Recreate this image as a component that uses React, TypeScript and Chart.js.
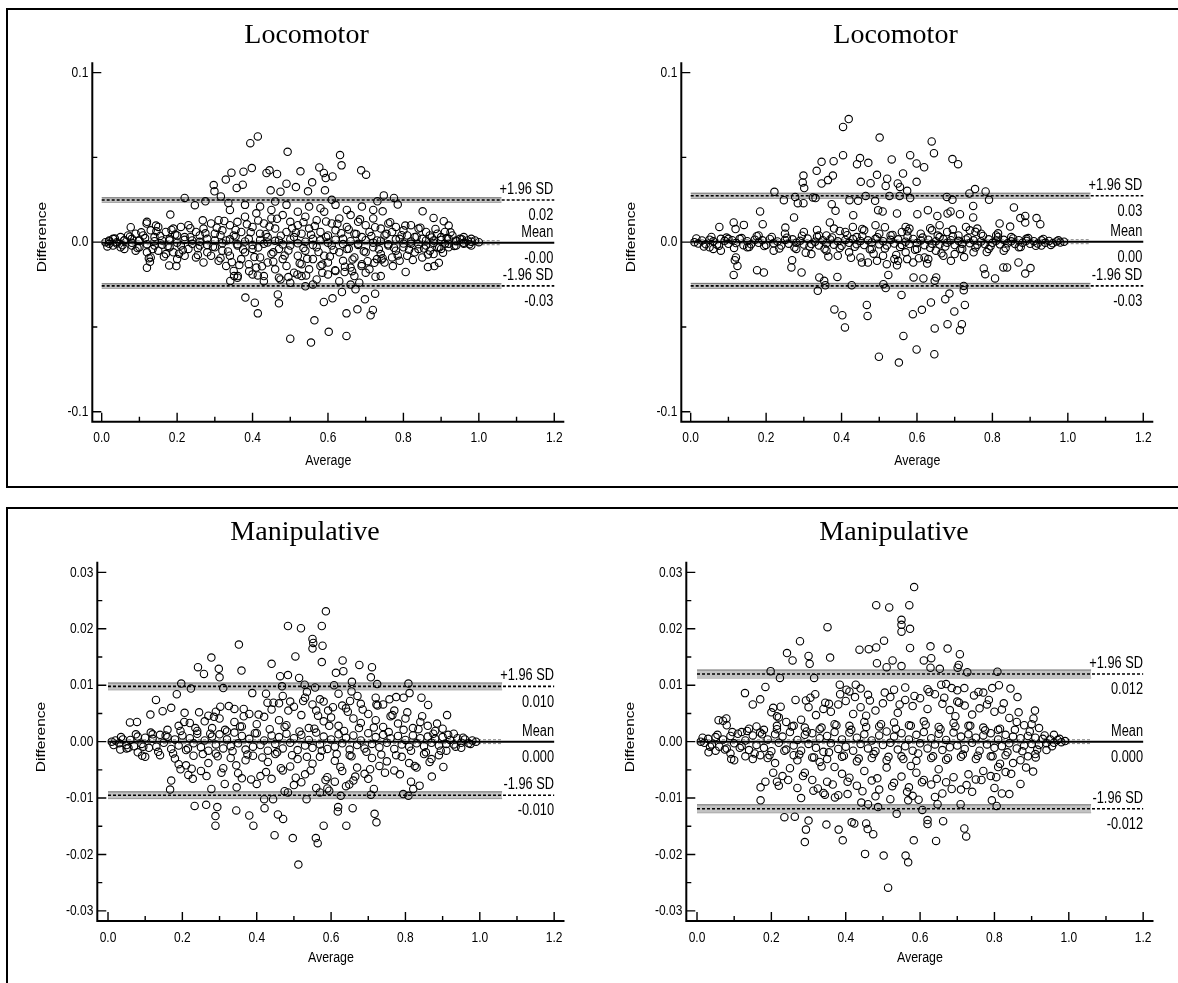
import React, { useEffect, useRef } from "react";
import { Chart, registerables } from "chart.js";

Chart.register(...registerables);

type Pt = [number, number];

// ---------- tick values ----------
const X_TICKS = [0, 0.2, 0.4, 0.6, 0.8, 1.0, 1.2];
const X_MINOR_TICKS = [0.1, 0.3, 0.5, 0.7, 0.9, 1.1];
const Y_TICKS_LOCO = [-0.1, 0, 0.1];
const Y_MINOR_LOCO = [-0.05, 0.05];
const Y_TICKS_MANIP = [-0.03, -0.02, -0.01, 0, 0.01, 0.02, 0.03];
const Y_MINOR_MANIP = [-0.025, -0.015, -0.005, 0.005, 0.015, 0.025];

const LINE_END = 1.2; // x where mean / limit lines stop
const CI_END = 1.06; // x where the CI bands stop

// ---------- limits: [mean, +1.96 SD, -1.96 SD] and CI half widths [mean, limits] ----------
const LOCO_A_LIMITS = [-0.0003, 0.0249, -0.0258];
const LOCO_A_VALUE_LABELS = ["-0.00", "0.02", "-0.03"];
const LOCO_A_CI = [0.0012, 0.0013];

const LOCO_B_LIMITS = [0.0003, 0.0274, -0.0258];
const LOCO_B_VALUE_LABELS = ["0.00", "0.03", "-0.03"];
const LOCO_B_CI = [0.0012, 0.0015];

const MANIP_A_LIMITS = [0.0, 0.0098, -0.0095];
const MANIP_A_VALUE_LABELS = ["0.000", "0.010", "-0.010"];
const MANIP_A_CI = [0.00035, 0.0006];

const MANIP_B_LIMITS = [0.0, 0.012, -0.0119];
const MANIP_B_VALUE_LABELS = ["0.000", "0.012", "-0.012"];
const MANIP_B_CI = [0.00035, 0.0007];

// ---------- Locomotor (left) ----------
const LOCO_A_ZERO: Pt[] = [[0.02,0.0005],[0.04,-0.0008],[0.06,0.0012],[0.08,-0.0004],[0.10,0.0009],[0.12,-0.0012],[0.14,0.0006],[0.16,-0.0015],[0.18,0.0011],[0.20,-0.0003],[0.22,0.0014],[0.24,-0.0010],[0.26,0.0002],[0.28,-0.0016],[0.30,0.0010],[0.32,-0.0006],[0.34,0.0017],[0.36,-0.0012],[0.38,0.0004],[0.40,-0.0018],[0.42,0.0013],[0.44,-0.0002],[0.46,0.0008],[0.48,-0.0014],[0.50,0.0016],[0.52,-0.0007],[0.54,0.0003],[0.56,-0.0017],[0.58,0.0011],[0.60,-0.0004],[0.62,0.0015],[0.64,-0.0011],[0.66,0.0006],[0.68,-0.0016],[0.70,0.0012],[0.72,-0.0003],[0.74,0.0009],[0.76,-0.0013],[0.78,0.0017],[0.80,-0.0008],[0.82,0.0004],[0.84,-0.0012],[0.86,0.0010],[0.88,-0.0005],[0.90,0.0013],[0.92,-0.0009],[0.94,0.0006],[0.96,-0.0004],[0.98,0.0003]];
const LOCO_A_ZERO2: Pt[] = [[0.015,-0.0025],[0.035,0.0021],[0.055,-0.0018],[0.075,0.0032],[0.095,-0.0035],[0.115,0.0024],[0.135,-0.0041],[0.155,0.0037],[0.175,-0.0022],[0.195,0.0045],[0.215,-0.0048],[0.235,0.0029],[0.255,-0.0036],[0.275,0.0052],[0.295,-0.0027],[0.315,0.0041],[0.335,-0.0055],[0.355,0.0034],[0.375,-0.0043],[0.395,0.0058],[0.415,-0.0031],[0.435,0.0047],[0.455,-0.006],[0.475,0.0038],[0.495,-0.0049],[0.515,0.0056],[0.535,-0.0035],[0.555,0.0044],[0.575,-0.0058],[0.595,0.0031],[0.615,-0.0046],[0.635,0.0053],[0.655,-0.0039],[0.675,0.0048],[0.695,-0.0054],[0.715,0.0036],[0.735,-0.0042],[0.755,0.0049],[0.775,-0.0033],[0.795,0.0041],[0.815,-0.0045],[0.835,0.0032],[0.855,-0.0038],[0.875,0.0028],[0.895,-0.0031],[0.915,0.0024],[0.935,-0.0022],[0.955,0.0017],[0.975,-0.0012]];
const LOCO_A_CORE: Pt[] = [[0.01,0],[0.02,0.001],[0.02,-0.001],[0.03,0.002],[0.03,-0.002],[0.04,0],[0.05,0.003],[0.05,-0.003],[0.06,0.001],[0.06,-0.004],[0.07,0.004],[0.08,0.002],[0.08,-0.002],[0.09,0.005],[0.09,-0.005],[0.10,0.001],[0.10,-0.003],[0.11,0.004],[0.12,0.012],[0.12,-0.006],[0.13,0.007],[0.13,-0.009],[0.14,0.003],[0.14,-0.002],[0.15,0.009],[0.15,-0.005],[0.16,0.001],[0.17,0.006],[0.17,-0.007],[0.18,0.002],[0.18,-0.003],[0.19,0.008],[0.19,-0.006],[0.20,0.004],[0.20,-0.010],[0.21,0.009],[0.21,-0.002],[0.22,0.003],[0.22,-0.008],[0.23,0.010],[0.23,-0.004],[0.24,0.001],[0.25,0.006],[0.25,-0.009],[0.26,0.004],[0.26,-0.002],[0.27,0.008],[0.27,-0.012],[0.28,0.002],[0.28,-0.006],[0.29,0.011],[0.29,-0.008],[0.30,0.005],[0.30,-0.003],[0.31,0.013],[0.31,-0.011],[0.32,0.007],[0.32,-0.005],[0.33,0.001],[0.33,-0.014],[0.34,0.010],[0.34,-0.008],[0.35,0.004],[0.35,-0.017],[0.36,0.012],[0.36,-0.002],[0.37,0.006],[0.37,-0.010],[0.38,0.015],[0.38,-0.006],[0.39,0.002],[0.39,-0.013],[0.40,0.009],[0.40,-0.004],[0.41,0.017],[0.41,-0.015],[0.42,0.005],[0.42,-0.009],[0.43,0.011],[0.43,-0.001],[0.44,0.003],[0.44,-0.012],[0.45,0.014],[0.45,-0.007],[0.46,0.008],[0.46,-0.016],[0.47,0.001],[0.47,-0.004],[0.48,0.016],[0.48,-0.010],[0.49,0.006],[0.49,-0.014],[0.50,0.012],[0.50,-0.002],[0.51,0.003],[0.51,-0.018],[0.52,0.010],[0.52,-0.008],[0.53,0.005],[0.53,-0.013],[0.54,0.015],[0.54,-0.005],[0.55,0.008],[0.55,-0.016],[0.56,0.002],[0.56,-0.010],[0.57,0.013],[0.57,-0.003],[0.58,0.006],[0.58,-0.014],[0.59,0.018],[0.59,-0.008],[0.60,0.004],[0.60,-0.012],[0.61,0.011],[0.61,-0.002],[0.62,0.007],[0.62,-0.017],[0.63,0.014],[0.63,-0.006],[0.64,0.002],[0.64,-0.011],[0.65,0.009],[0.65,-0.004],[0.66,0.016],[0.66,-0.015],[0.67,0.005],[0.67,-0.009],[0.68,0.012],[0.68,-0.001],[0.69,0.003],[0.69,-0.013],[0.70,0.010],[0.70,-0.006],[0.71,0.006],[0.71,-0.016],[0.72,0.014],[0.72,-0.003],[0.73,0.001],[0.73,-0.010],[0.74,0.008],[0.74,-0.007],[0.75,0.004],[0.75,-0.012],[0.76,0.011],[0.76,-0.002],[0.77,0.006],[0.77,-0.009],[0.78,0.009],[0.78,-0.005],[0.79,0.002],[0.79,-0.011],[0.80,0.007],[0.80,-0.003],[0.81,0.004],[0.81,-0.008],[0.82,0.010],[0.82,-0.001],[0.83,0.003],[0.83,-0.006],[0.84,0.008],[0.84,-0.004],[0.85,0.002],[0.85,-0.009],[0.86,0.006],[0.86,-0.002],[0.87,0.004],[0.87,-0.005],[0.88,0.001],[0.88,-0.007],[0.89,0.005],[0.89,-0.003],[0.90,0.003],[0.90,-0.004],[0.91,0.006],[0.91,-0.001],[0.92,0.002],[0.92,-0.003],[0.93,0.004],[0.94,0.001],[0.94,-0.002],[0.95,0.002],[0.96,0.003],[0.96,-0.001],[0.97,0.001],[0.98,0.002],[0.98,-0.002],[0.99,0.001],[1.00,0]];
const LOCO_A_MID: Pt[] = [[0.34,0.019],[0.36,-0.021],[0.38,0.022],[0.40,-0.019],[0.42,0.021],[0.43,-0.023],[0.45,0.019],[0.47,-0.021],[0.49,0.022],[0.50,-0.024],[0.52,0.018],[0.53,-0.02],[0.55,0.021],[0.57,-0.022],[0.58,0.02],[0.60,-0.019],[0.62,0.022],[0.63,-0.023],[0.65,0.019],[0.67,-0.02],[0.69,0.021],[0.70,-0.018],[0.72,0.019],[0.74,-0.02],[0.61,0.025],[0.54,-0.026],[0.46,0.024],[0.66,-0.025]];
const LOCO_A_EXTRA: Pt[] = [[0.305,0.0085],[0.315,-0.0095],[0.325,0.0125],[0.345,-0.0118],[0.355,0.0072],[0.365,-0.0135],[0.385,0.0105],[0.405,-0.0088],[0.415,0.0128],[0.425,-0.0142],[0.445,0.0092],[0.455,-0.0115],[0.465,0.0138],[0.485,-0.0078],[0.505,0.0082],[0.525,-0.0125],[0.535,0.0118],[0.545,-0.0098],[0.565,0.0095],[0.585,-0.0132],[0.595,0.0122],[0.605,-0.0085],[0.625,0.0108],[0.645,-0.0145],[0.655,0.0075],[0.665,-0.0102],[0.685,0.0135],[0.705,-0.0112],[0.725,0.0088],[0.745,-0.0095],[0.765,0.0118],[0.785,-0.0078],[0.805,0.0098],[0.825,-0.0105],[0.845,0.0085],[0.865,-0.0072],[0.885,0.0078],[0.905,-0.0062],[0.925,0.0058],[0.255,-0.0075],[0.235,0.0082],[0.205,-0.0068],[0.185,0.0072],[0.165,-0.0085],[0.145,0.0065],[0.125,-0.0095],[0.105,0.0058]];
const LOCO_A_OUTER: Pt[] = [[0.394,0.0584],[0.414,0.0624],[0.493,0.0533],[0.632,0.0514],[0.636,0.0453],[0.688,0.0424],[0.701,0.0398],[0.398,0.0437],[0.344,0.041],[0.376,0.0416],[0.329,0.0369],[0.297,0.0337],[0.358,0.032],[0.374,0.0339],[0.437,0.0408],[0.445,0.0424],[0.465,0.0402],[0.448,0.0306],[0.474,0.0298],[0.49,0.0345],[0.527,0.0418],[0.558,0.0353],[0.577,0.0441],[0.589,0.0408],[0.594,0.0378],[0.612,0.0388],[0.592,0.0306],[0.515,0.0325],[0.547,0.03],[0.22,0.0261],[0.247,0.0218],[0.275,0.0241],[0.299,0.03],[0.316,0.027],[0.336,0.0231],[0.748,0.0276],[0.775,0.0261],[0.785,0.0222],[0.731,0.0241],[0.745,0.0182],[0.851,0.0182],[0.88,0.0143],[0.907,0.0124],[0.92,0.0098],[0.182,0.0163],[0.268,0.0129],[0.077,0.0088],[0.119,0.011],[0.144,0.0098],[0.381,-0.0327],[0.406,-0.0357],[0.414,-0.042],[0.467,-0.0308],[0.47,-0.0361],[0.5,-0.0569],[0.555,-0.0592],[0.564,-0.0461],[0.589,-0.0353],[0.612,-0.0331],[0.602,-0.0529],[0.649,-0.0553],[0.637,-0.0294],[0.649,-0.042],[0.678,-0.0396],[0.673,-0.0278],[0.683,-0.0239],[0.698,-0.0337],[0.713,-0.0431],[0.719,-0.04],[0.725,-0.0304],[0.726,-0.0204],[0.56,-0.0249],[0.341,-0.0229],[0.351,-0.02],[0.361,-0.02],[0.12,-0.0151],[0.128,-0.0116],[0.179,-0.0137],[0.198,-0.0141],[0.806,-0.0176],[0.865,-0.0147],[0.882,-0.0141],[0.894,-0.0122],[0.391,-0.0171],[0.414,-0.0196],[0.43,-0.02],[0.474,-0.022],[0.495,-0.0206],[0.519,-0.019],[0.542,-0.0196],[0.585,-0.018],[0.619,-0.0165],[0.644,-0.0176],[0.664,-0.0171],[0.689,-0.0141],[0.723,-0.0122],[0.742,-0.0102],[0.772,-0.0141]];

// ---------- Locomotor (right) ----------
const LOCO_B_CORE: Pt[] = [[0.01,0],[0.02,-0.0008],[0.03,0.001],[0.04,-0.0012],[0.05,0.0015],[0.05,-0.003],[0.06,0.0005],[0.07,-0.0015],[0.08,0.002],[0.08,-0.005],[0.09,0.0008],[0.10,-0.001],[0.11,0.0012],[0.12,-0.0005],[0.13,0.002],[0.14,-0.0018],[0.15,0.0006],[0.16,-0.0012],[0.17,0.0015],[0.18,-0.0004],[0.19,0.0011],[0.20,-0.0016],[0.21,0.0019],[0.22,-0.0007],[0.23,0.0004],[0.24,-0.002],[0.25,0.0013],[0.26,-0.0009],[0.27,0.0017],[0.28,-0.0003],[0.29,0.0008],[0.30,-0.0014],[0.31,0.0021],[0.32,-0.0011],[0.33,0.0003],[0.34,-0.0019],[0.35,0.0012],[0.36,-0.0006],[0.37,0.0016],[0.38,-0.0015],[0.39,0.0005],[0.40,-0.0021],[0.41,0.0013],[0.42,-0.0004],[0.43,0.0018],[0.44,-0.0012],[0.45,0.0007],[0.46,-0.0017],[0.47,0.0011],[0.48,-0.0002],[0.49,0.002],[0.50,-0.0013],[0.51,0.0006],[0.52,-0.0019],[0.53,0.0014],[0.54,-0.0008],[0.55,0.0017],[0.56,-0.0016],[0.57,0.0003],[0.58,-0.0011],[0.59,0.0019],[0.60,-0.0005],[0.61,0.001],[0.62,-0.0018],[0.63,0.0015],[0.64,-0.0009],[0.65,0.0006],[0.66,-0.0014],[0.67,0.0018],[0.68,-0.0003],[0.69,0.0012],[0.70,-0.0017],[0.71,0.0008],[0.72,-0.001],[0.73,0.0016],[0.74,-0.0006],[0.75,0.0011],[0.76,-0.0015],[0.77,0.0004],[0.78,-0.0012],[0.79,0.0017],[0.80,-0.0004],[0.81,0.0009],[0.82,-0.0013],[0.83,0.0014],[0.84,-0.0007],[0.85,0.0005],[0.86,-0.0011],[0.87,0.0012],[0.88,-0.0003],[0.89,0.0008],[0.90,-0.001],[0.91,0.0006],[0.92,-0.0008],[0.93,0.0011],[0.94,-0.0004],[0.95,0.0007],[0.96,-0.0006],[0.97,0.0004],[0.98,-0.0002],[0.99,0.0003]];
const LOCO_B_ZERO2: Pt[] = [[0.015,0.0022],[0.035,-0.0026],[0.055,0.0031],[0.075,-0.0021],[0.095,0.0027],[0.115,-0.0034],[0.135,0.0024],[0.155,-0.0029],[0.175,0.0035],[0.195,-0.0023],[0.215,0.0031],[0.235,-0.0037],[0.255,0.0026],[0.275,-0.0032],[0.295,0.0038],[0.315,-0.0025],[0.335,0.0033],[0.355,-0.0039],[0.375,0.0028],[0.395,-0.0035],[0.415,0.0041],[0.435,-0.0027],[0.455,0.0036],[0.475,-0.0042],[0.495,0.0029],[0.515,-0.0037],[0.535,0.0043],[0.555,-0.0028],[0.575,0.0034],[0.595,-0.0044],[0.615,0.0027],[0.635,-0.0033],[0.655,0.0039],[0.675,-0.0026],[0.695,0.0035],[0.715,-0.0041],[0.735,0.0025],[0.755,-0.0032],[0.775,0.0037],[0.795,-0.0024],[0.815,0.0031],[0.835,-0.0035],[0.855,0.0022],[0.875,-0.0028],[0.895,0.0024],[0.915,-0.0021],[0.935,0.0019],[0.955,-0.0016],[0.975,0.0011]];
const LOCO_B_MID: Pt[] = [[0.12,-0.009],[0.06,-0.004],[0.10,0.002],[0.15,-0.003],[0.18,0.004],[0.22,-0.005],[0.25,0.005],[0.28,-0.004],[0.30,0.006],[0.32,-0.007],[0.34,0.004],[0.36,-0.005],[0.38,0.008],[0.39,-0.008],[0.41,0.006],[0.42,-0.006],[0.44,0.003],[0.45,-0.009],[0.46,0.007],[0.48,-0.004],[0.50,0.005],[0.51,-0.008],[0.53,0.004],[0.54,-0.01],[0.56,0.006],[0.57,-0.006],[0.58,0.008],[0.60,-0.004],[0.61,0.005],[0.62,-0.009],[0.64,0.007],[0.65,-0.005],[0.66,0.003],[0.67,-0.008],[0.68,0.006],[0.70,-0.007],[0.71,0.004],[0.72,-0.004],[0.74,0.007],[0.75,-0.006],[0.77,0.005],[0.79,-0.004],[0.81,0.004],[0.83,-0.005],[0.85,0.003],[0.87,-0.003],[0.89,0.002],[0.93,-0.002],[0.36,0.004],[0.47,-0.012],[0.52,-0.013],[0.55,-0.011],[0.59,-0.012],[0.63,-0.01],[0.69,-0.011],[0.43,0.009],[0.49,0.01],[0.57,0.009],[0.66,0.01],[0.73,0.009],[0.76,0.008]];
const LOCO_B_EXTRA: Pt[] = [[0.305,-0.0062],[0.335,0.0072],[0.365,-0.0085],[0.395,0.0066],[0.425,-0.0092],[0.455,0.0078],[0.485,-0.0068],[0.515,0.0088],[0.545,-0.0075],[0.575,0.0064],[0.605,-0.0095],[0.635,0.0082],[0.665,-0.0066],[0.695,0.0074],[0.725,-0.0088],[0.755,0.0061],[0.785,-0.0058],[0.815,0.0052]];
const LOCO_B_OUTER: Pt[] = [[0.404,0.068],[0.419,0.0726],[0.501,0.0617],[0.639,0.0594],[0.645,0.0525],[0.694,0.049],[0.709,0.046],[0.404,0.0513],[0.379,0.0478],[0.347,0.0474],[0.334,0.0421],[0.449,0.0496],[0.441,0.046],[0.471,0.0468],[0.533,0.0488],[0.582,0.0513],[0.599,0.0464],[0.619,0.0442],[0.299,0.0393],[0.301,0.0319],[0.297,0.0352],[0.347,0.0346],[0.364,0.0366],[0.377,0.0393],[0.451,0.0356],[0.477,0.0348],[0.494,0.0397],[0.521,0.0374],[0.517,0.0332],[0.549,0.0346],[0.563,0.0405],[0.555,0.0326],[0.574,0.0303],[0.599,0.0356],[0.222,0.0297],[0.247,0.0248],[0.277,0.0267],[0.284,0.023],[0.299,0.023],[0.324,0.0264],[0.331,0.026],[0.374,0.0224],[0.384,0.0185],[0.421,0.0248],[0.444,0.0244],[0.464,0.0273],[0.489,0.0244],[0.527,0.0273],[0.554,0.0273],[0.582,0.026],[0.497,0.0189],[0.509,0.0181],[0.547,0.0169],[0.431,0.0159],[0.369,0.0116],[0.679,0.0267],[0.694,0.025],[0.681,0.0169],[0.739,0.0287],[0.754,0.0313],[0.782,0.0299],[0.791,0.025],[0.749,0.0214],[0.749,0.0146],[0.601,0.0165],[0.629,0.0189],[0.654,0.0155],[0.689,0.0181],[0.714,0.0165],[0.857,0.0205],[0.874,0.0142],[0.887,0.0155],[0.917,0.0142],[0.927,0.0106],[0.887,0.0116],[0.847,0.0092],[0.819,0.011],[0.184,0.0181],[0.191,0.0106],[0.114,0.0116],[0.119,0.0077],[0.141,0.0102],[0.076,0.009],[0.274,0.0146],[0.251,0.0086],[0.499,-0.0676],[0.552,-0.071],[0.599,-0.0633],[0.646,-0.0661],[0.564,-0.0553],[0.409,-0.0503],[0.402,-0.0431],[0.381,-0.0397],[0.467,-0.037],[0.469,-0.0435],[0.559,-0.0311],[0.589,-0.0425],[0.613,-0.0399],[0.637,-0.0356],[0.647,-0.0509],[0.681,-0.0484],[0.675,-0.0336],[0.686,-0.0303],[0.699,-0.0409],[0.719,-0.0484],[0.714,-0.0519],[0.727,-0.037],[0.724,-0.0283],[0.724,-0.0258],[0.337,-0.0287],[0.341,-0.0208],[0.354,-0.0228],[0.357,-0.0254],[0.389,-0.0205],[0.427,-0.0254],[0.524,-0.0193],[0.511,-0.0248],[0.517,-0.0271],[0.591,-0.0208],[0.617,-0.0214],[0.651,-0.0208],[0.647,-0.0228],[0.627,-0.0126],[0.114,-0.0193],[0.117,-0.0106],[0.124,-0.014],[0.176,-0.0165],[0.194,-0.0179],[0.267,-0.0149],[0.294,-0.0179],[0.269,-0.0106],[0.777,-0.0155],[0.781,-0.0189],[0.807,-0.0214],[0.829,-0.0149],[0.839,-0.0149],[0.869,-0.012],[0.887,-0.0185],[0.901,-0.0153],[0.454,-0.012],[0.494,-0.011],[0.547,-0.0136],[0.574,-0.01]];

// ---------- Manipulative (left) ----------
const MANIP_A_CORE: Pt[] = [[0.01,0],[0.02,0.0002],[0.03,-0.0003],[0.04,0.0004],[0.05,-0.0006],[0.06,0.0003],[0.07,-0.0008],[0.08,0.0009],[0.09,-0.0004],[0.10,0.0007],[0.11,-0.0011],[0.12,0.0005],[0.13,-0.0009],[0.14,0.0012],[0.15,-0.0002],[0.16,0.0008],[0.17,-0.0013],[0.18,0.0004],[0.19,-0.0007],[0.20,0.0011],[0.21,-0.0015],[0.22,0.0006],[0.23,-0.0003],[0.24,0.0014],[0.25,-0.001],[0.26,0.0002],[0.27,-0.0016],[0.28,0.0009],[0.29,-0.0005],[0.30,0.0013],[0.31,-0.0012],[0.32,0.0004],[0.33,-0.0008],[0.34,0.0016],[0.35,-0.0003],[0.36,0.001],[0.37,-0.0014],[0.38,0.0005],[0.39,-0.0009],[0.40,0.0015],[0.41,-0.0006],[0.42,0.0002],[0.43,-0.0016],[0.44,0.0011],[0.45,-0.0004],[0.46,0.0008],[0.47,-0.0012],[0.48,0.0014],[0.49,-0.0002],[0.50,0.0006],[0.51,-0.0015],[0.52,0.0012],[0.53,-0.0007],[0.54,0.0003],[0.55,-0.0011],[0.56,0.0016],[0.57,-0.0005],[0.58,0.0009],[0.59,-0.0013],[0.60,0.0004],[0.61,-0.0009],[0.62,0.0013],[0.63,-0.0003],[0.64,0.0007],[0.65,-0.0014],[0.66,0.0011],[0.67,-0.0006],[0.68,0.0002],[0.69,-0.0012],[0.70,0.0015],[0.71,-0.0004],[0.72,0.0008],[0.73,-0.001],[0.74,0.0012],[0.75,-0.0002],[0.76,0.0006],[0.77,-0.0013],[0.78,0.001],[0.79,-0.0005],[0.80,0.0003],[0.81,-0.0009],[0.82,0.0011],[0.83,-0.0003],[0.84,0.0006],[0.85,-0.0008],[0.86,0.0009],[0.87,-0.0002],[0.88,0.0005],[0.89,-0.0007],[0.90,0.0008],[0.91,-0.0004],[0.92,0.0003],[0.93,-0.0005],[0.94,0.0006],[0.95,-0.0002],[0.96,0.0004],[0.97,-0.0003],[0.98,0.0002],[0.99,0]];
const MANIP_A_ZERO2: Pt[] = [[0.015,-0.0006],[0.035,0.0008],[0.055,-0.0011],[0.075,0.0013],[0.095,-0.0009],[0.115,0.0016],[0.135,-0.0018],[0.155,0.0011],[0.175,-0.0021],[0.195,0.0019],[0.215,-0.0012],[0.235,0.0024],[0.255,-0.0022],[0.275,0.0014],[0.295,-0.0026],[0.315,0.0021],[0.335,-0.0017],[0.355,0.0027],[0.375,-0.0023],[0.395,0.0015],[0.415,-0.0028],[0.435,0.0022],[0.455,-0.0019],[0.475,0.0026],[0.495,-0.0024],[0.515,0.0018],[0.535,-0.0027],[0.555,0.0023],[0.575,-0.0016],[0.595,0.0028],[0.615,-0.0022],[0.635,0.0019],[0.655,-0.0026],[0.675,0.0024],[0.695,-0.0018],[0.715,0.0025],[0.735,-0.0023],[0.755,0.0017],[0.775,-0.0024],[0.795,0.0021],[0.815,-0.0016],[0.835,0.0022],[0.855,-0.0019],[0.875,0.0014],[0.895,-0.0016],[0.915,0.0012],[0.935,-0.0009],[0.955,0.0007],[0.975,-0.0004]];
const MANIP_A_MID: Pt[] = [[0.05,-0.0012],[0.08,-0.0019],[0.10,-0.0027],[0.12,0.0013],[0.14,-0.0024],[0.16,0.0021],[0.18,-0.003],[0.19,0.0028],[0.21,-0.0042],[0.22,0.0033],[0.23,-0.0025],[0.24,0.0019],[0.25,-0.0052],[0.26,0.0036],[0.27,-0.0038],[0.28,0.0024],[0.29,-0.0021],[0.30,0.0041],[0.31,-0.0047],[0.32,0.0018],[0.33,-0.0029],[0.34,0.0035],[0.35,-0.0056],[0.36,0.0027],[0.37,-0.0033],[0.38,0.0049],[0.39,-0.0025],[0.40,0.0031],[0.41,-0.0061],[0.42,0.0044],[0.43,-0.0036],[0.44,0.0057],[0.45,-0.0022],[0.46,0.0038],[0.47,-0.0051],[0.48,0.0029],[0.49,-0.0044],[0.50,0.0062],[0.51,-0.0031],[0.52,0.0047],[0.53,-0.0058],[0.54,0.0024],[0.55,-0.0039],[0.56,0.0055],[0.57,-0.0027],[0.58,0.0036],[0.59,-0.0063],[0.60,0.0043],[0.61,-0.0034],[0.62,0.0028],[0.63,-0.0052],[0.64,0.0059],[0.65,-0.0024],[0.66,0.0041],[0.67,-0.0046],[0.68,0.0033],[0.69,-0.0057],[0.70,0.0049],[0.71,-0.0029],[0.72,0.0038],[0.73,-0.0043],[0.74,0.0026],[0.75,-0.0035],[0.76,0.0045],[0.77,-0.0051],[0.78,0.0032],[0.79,-0.0027],[0.80,0.0041],[0.81,-0.0038],[0.82,0.0024],[0.83,-0.0046],[0.84,0.0035],[0.85,-0.0022],[0.86,0.0028],[0.87,-0.0031],[0.88,0.0019],[0.89,-0.0024],[0.90,0.0023],[0.91,-0.0016],[0.93,0.0014],[0.95,-0.0011],[0.40,-0.0075],[0.46,0.0068],[0.52,-0.0072],[0.58,0.0071],[0.63,0.0064],[0.66,-0.0069],[0.70,-0.0066],[0.74,0.0066],[0.77,0.0055],[0.44,-0.0066],[0.49,0.0071],[0.55,0.0066],[0.61,-0.0071],[0.68,0.0067],[0.36,-0.0065],[0.34,0.0058],[0.29,0.0053],[0.27,0.0046],[0.53,0.0078],[0.57,0.0075],[0.47,0.0081],[0.62,0.0085],[0.64,-0.0079],[0.56,-0.0082],[0.50,-0.0077]];
const MANIP_A_EXTRA: Pt[] = [[0.205,0.0035],[0.225,-0.0048],[0.245,0.0052],[0.265,-0.0061],[0.285,0.0044],[0.305,-0.0055],[0.325,0.0063],[0.345,-0.0042],[0.365,0.0058],[0.385,-0.0067],[0.405,0.0048],[0.425,-0.0054],[0.445,0.0069],[0.465,-0.0047],[0.485,0.0055],[0.505,-0.0064],[0.525,0.0072],[0.545,-0.0051],[0.565,0.0046],[0.585,-0.0068],[0.605,0.0061],[0.625,-0.0045],[0.645,0.0053],[0.665,-0.0062],[0.685,0.0057],[0.705,-0.0049],[0.725,0.0064],[0.745,-0.0055],[0.765,0.0047],[0.785,-0.0058],[0.805,0.0052],[0.825,-0.0043],[0.845,0.0045],[0.865,-0.0036],[0.885,0.0032],[0.425,0.0085],[0.475,-0.0088],[0.535,0.0088],[0.595,-0.0087],[0.655,0.0089],[0.715,-0.0084],[0.775,0.0079],[0.815,-0.0071]];
const MANIP_A_OUTER: Pt[] = [[0.586,0.0231],[0.484,0.0205],[0.519,0.0201],[0.575,0.0205],[0.55,0.0182],[0.552,0.0175],[0.55,0.0165],[0.577,0.017],[0.352,0.0172],[0.359,0.0126],[0.278,0.0149],[0.242,0.0132],[0.258,0.012],[0.298,0.0129],[0.3,0.0114],[0.31,0.0095],[0.44,0.0138],[0.504,0.0151],[0.575,0.0141],[0.631,0.0144],[0.676,0.0136],[0.71,0.0132],[0.463,0.0116],[0.484,0.0118],[0.514,0.0113],[0.613,0.0122],[0.633,0.0125],[0.707,0.0114],[0.197,0.0103],[0.223,0.0094],[0.129,0.0074],[0.468,0.0098],[0.529,0.0101],[0.557,0.0096],[0.608,0.01],[0.656,0.0106],[0.724,0.0102],[0.808,0.0103],[0.185,0.0084],[0.17,0.006],[0.147,0.0054],[0.206,0.0051],[0.114,0.0048],[0.059,0.0034],[0.078,0.0035],[0.388,0.0086],[0.429,0.0069],[0.365,0.0045],[0.302,0.0062],[0.757,0.0075],[0.795,0.0078],[0.811,0.0086],[0.843,0.0078],[0.861,0.0065],[0.912,0.0047],[0.671,0.0081],[0.72,0.0078],[0.722,0.0066],[0.651,0.0072],[0.592,0.0055],[0.512,-0.0218],[0.448,-0.0166],[0.497,-0.0171],[0.559,-0.0171],[0.564,-0.018],[0.289,-0.0149],[0.294,-0.0116],[0.289,-0.0132],[0.233,-0.0114],[0.264,-0.0112],[0.345,-0.0122],[0.38,-0.0131],[0.391,-0.0149],[0.421,-0.0118],[0.457,-0.0129],[0.471,-0.0137],[0.58,-0.0149],[0.641,-0.0149],[0.619,-0.0116],[0.618,-0.0124],[0.658,-0.0118],[0.717,-0.0128],[0.722,-0.0143],[0.17,-0.0069],[0.167,-0.0085],[0.278,-0.0084],[0.314,-0.0075],[0.346,-0.0081],[0.42,-0.0102],[0.444,-0.0102],[0.484,-0.009],[0.534,-0.0102],[0.57,-0.009],[0.59,-0.0083],[0.626,-0.0096],[0.649,-0.0076],[0.707,-0.0094],[0.794,-0.0093],[0.808,-0.0096],[0.821,-0.0084],[0.838,-0.0078],[0.871,-0.0062],[0.902,-0.0045],[0.19,-0.004],[0.195,-0.0049],[0.216,-0.0059],[0.228,-0.0066],[0.092,-0.0025],[0.033,-0.0014]];

// ---------- Manipulative (right) ----------
const MANIP_B_CORE: Pt[] = [[0.01,0],[0.02,-0.0002],[0.03,0.0005],[0.04,-0.0005],[0.05,0.0008],[0.06,-0.0009],[0.07,0.0004],[0.08,-0.0012],[0.09,0.001],[0.10,-0.0003],[0.11,0.0014],[0.12,-0.0008],[0.13,0.0002],[0.14,-0.0015],[0.15,0.0011],[0.16,-0.0006],[0.17,0.0016],[0.18,-0.0011],[0.19,0.0004],[0.20,-0.0017],[0.21,0.0013],[0.22,-0.0002],[0.23,0.0009],[0.24,-0.0014],[0.25,0.0017],[0.26,-0.0007],[0.27,0.0003],[0.28,-0.0016],[0.29,0.0012],[0.30,-0.0004],[0.31,0.0015],[0.32,-0.0011],[0.33,0.0006],[0.34,-0.0018],[0.35,0.001],[0.36,-0.0003],[0.37,0.0017],[0.38,-0.0013],[0.39,0.0004],[0.40,-0.0009],[0.41,0.0016],[0.42,-0.0016],[0.43,0.0007],[0.44,-0.0004],[0.45,0.0013],[0.46,-0.0012],[0.47,0.0002],[0.48,-0.0017],[0.49,0.0011],[0.50,-0.0006],[0.51,0.0018],[0.52,-0.0002],[0.53,0.0009],[0.54,-0.0014],[0.55,0.0015],[0.56,-0.0008],[0.57,0.0004],[0.58,-0.0016],[0.59,0.0012],[0.60,-0.0003],[0.61,0.0017],[0.62,-0.0012],[0.63,0.0006],[0.64,-0.0005],[0.65,0.0014],[0.66,-0.0015],[0.67,0.0003],[0.68,-0.001],[0.69,0.0016],[0.70,-0.0007],[0.71,0.0009],[0.72,-0.0013],[0.73,0.0013],[0.74,-0.0002],[0.75,0.0007],[0.76,-0.0016],[0.77,0.0011],[0.78,-0.0005],[0.79,0.0015],[0.80,-0.0011],[0.81,0.0004],[0.82,-0.0008],[0.83,0.0012],[0.84,-0.0003],[0.85,0.0009],[0.86,-0.0012],[0.87,0.0006],[0.88,-0.0007],[0.89,0.001],[0.90,-0.0004],[0.91,0.0007],[0.92,-0.0006],[0.93,0.0005],[0.94,-0.0003],[0.95,0.0004],[0.96,-0.0002],[0.97,0.0003],[0.98,-0.0001],[0.99,0.0001]];
const MANIP_B_ZERO2: Pt[] = [[0.015,0.0007],[0.035,-0.0009],[0.055,0.0012],[0.075,-0.0014],[0.095,0.0017],[0.115,-0.0011],[0.135,0.0019],[0.155,-0.0021],[0.175,0.0013],[0.195,-0.0024],[0.215,0.0022],[0.235,-0.0016],[0.255,0.0027],[0.275,-0.0023],[0.295,0.0018],[0.315,-0.0028],[0.335,0.0025],[0.355,-0.0019],[0.375,0.0029],[0.395,-0.0025],[0.415,0.0021],[0.435,-0.003],[0.455,0.0026],[0.475,-0.0022],[0.495,0.0031],[0.515,-0.0027],[0.535,0.0023],[0.555,-0.0031],[0.575,0.0028],[0.595,-0.0021],[0.615,0.003],[0.635,-0.0026],[0.655,0.0022],[0.675,-0.0029],[0.695,0.0027],[0.715,-0.0023],[0.735,0.0028],[0.755,-0.0025],[0.775,0.002],[0.795,-0.0026],[0.815,0.0023],[0.835,-0.0019],[0.855,0.0021],[0.875,-0.0017],[0.895,0.0018],[0.915,-0.0014],[0.935,0.0011],[0.955,-0.0008],[0.975,0.0005]];
const MANIP_B_MID: Pt[] = [[0.05,-0.0016],[0.07,0.0037],[0.08,0.0029],[0.09,-0.0021],[0.10,-0.0033],[0.12,0.0017],[0.13,-0.0026],[0.14,0.0023],[0.15,-0.0031],[0.16,0.0027],[0.17,-0.0024],[0.18,0.0021],[0.19,-0.0029],[0.20,0.0052],[0.21,-0.0038],[0.22,0.0043],[0.23,-0.0061],[0.24,0.0035],[0.25,-0.0047],[0.26,0.0028],[0.27,-0.0082],[0.28,0.0039],[0.29,-0.0055],[0.30,0.0061],[0.31,-0.0068],[0.32,0.0047],[0.33,-0.0036],[0.34,0.0058],[0.35,-0.0071],[0.36,0.0053],[0.37,-0.0045],[0.38,0.0066],[0.39,-0.0057],[0.40,0.0072],[0.41,-0.0064],[0.42,0.0049],[0.43,-0.0078],[0.44,0.0061],[0.45,-0.0052],[0.46,0.0083],[0.47,-0.0069],[0.48,0.0055],[0.49,-0.0085],[0.50,0.0068],[0.51,-0.0046],[0.52,0.0079],[0.53,-0.0073],[0.54,0.0051],[0.55,-0.0062],[0.56,0.0074],[0.57,-0.0081],[0.58,0.0063],[0.59,-0.0055],[0.60,0.0077],[0.61,-0.0068],[0.62,0.0058],[0.63,-0.0076],[0.64,0.0084],[0.65,-0.0049],[0.66,0.0067],[0.67,-0.0072],[0.68,0.0056],[0.69,-0.0063],[0.70,0.0071],[0.71,-0.0085],[0.72,0.0064],[0.73,-0.0058],[0.74,0.0048],[0.75,-0.0067],[0.76,0.0059],[0.77,-0.0052],[0.78,0.0066],[0.79,-0.0061],[0.80,0.0053],[0.81,-0.0045],[0.82,0.0057],[0.83,-0.0054],[0.84,0.0042],[0.85,-0.0038],[0.86,0.0035],[0.87,-0.0033],[0.88,0.0029],[0.89,-0.0026],[0.90,0.0031],[0.91,-0.0022],[0.92,0.0024],[0.94,-0.0015],[0.96,0.0012],[0.26,-0.0024],[0.29,0.0025],[0.33,0.0022],[0.37,0.0031],[0.41,0.0028],[0.45,0.0035],[0.49,0.0027],[0.53,0.0034],[0.57,0.0029],[0.61,0.0036],[0.65,0.0026],[0.69,0.0033],[0.73,0.0028],[0.77,0.0025],[0.81,0.0021],[0.27,-0.0033],[0.31,-0.0028],[0.35,-0.0031],[0.39,-0.0027],[0.43,-0.0035],[0.47,-0.0029],[0.51,-0.0033],[0.55,-0.0026],[0.59,-0.0034],[0.63,-0.0029],[0.67,-0.0032],[0.71,-0.0027],[0.75,-0.0031],[0.79,-0.0026],[0.83,-0.0024],[0.34,-0.0091],[0.38,-0.0095],[0.44,0.0094],[0.48,-0.0097],[0.53,0.0092],[0.58,-0.0096],[0.62,0.0093],[0.66,-0.0092],[0.70,0.0091],[0.74,-0.0089],[0.77,0.0087],[0.80,-0.0082],[0.41,0.0089],[0.56,0.0096],[0.64,-0.0098]];
const MANIP_B_EXTRA: Pt[] = [[0.205,-0.0055],[0.225,0.0062],[0.245,-0.0068],[0.265,0.0074],[0.285,-0.0061],[0.305,0.0078],[0.325,-0.0083],[0.345,0.0069],[0.365,-0.0076],[0.385,0.0084],[0.405,-0.0071],[0.425,0.0079],[0.445,-0.0088],[0.465,0.0073],[0.485,-0.0065],[0.505,0.0087],[0.525,-0.0079],[0.545,0.0066],[0.565,-0.0089],[0.585,0.0081],[0.605,-0.0072],[0.625,0.0088],[0.645,-0.0066],[0.665,0.0078],[0.685,-0.0084],[0.705,0.0069],[0.725,-0.0077],[0.745,0.0082],[0.765,-0.0068],[0.785,0.0074],[0.805,-0.0063],[0.825,0.0068],[0.845,-0.0057],[0.865,0.0052],[0.885,-0.0046],[0.905,0.0041],[0.215,0.0028],[0.335,-0.0044],[0.455,0.0046],[0.575,-0.0043],[0.695,0.0045],[0.815,-0.0039]];
const MANIP_B_OUTER: Pt[] = [[0.584,0.0274],[0.482,0.0242],[0.517,0.0238],[0.571,0.0242],[0.55,0.0216],[0.55,0.0207],[0.55,0.0195],[0.573,0.02],[0.351,0.0203],[0.277,0.0178],[0.503,0.0179],[0.242,0.0157],[0.257,0.0144],[0.3,0.0152],[0.303,0.0138],[0.358,0.0149],[0.437,0.0163],[0.462,0.0164],[0.482,0.0167],[0.573,0.0166],[0.628,0.0169],[0.674,0.0165],[0.707,0.0155],[0.63,0.0148],[0.61,0.0144],[0.484,0.0139],[0.526,0.0144],[0.51,0.0132],[0.55,0.0134],[0.198,0.0125],[0.223,0.0113],[0.315,0.0113],[0.628,0.0131],[0.653,0.0129],[0.701,0.0131],[0.704,0.0136],[0.727,0.0123],[0.808,0.0124],[0.129,0.0086],[0.184,0.0097],[0.318,0.0084],[0.293,0.0073],[0.757,0.0088],[0.794,0.0095],[0.812,0.01],[0.843,0.0094],[0.862,0.0079],[0.909,0.0055],[0.67,0.0102],[0.685,0.0095],[0.719,0.0095],[0.657,0.0101],[0.384,0.0101],[0.355,0.0067],[0.402,0.0092],[0.427,0.0101],[0.15,0.0066],[0.17,0.0075],[0.205,0.006],[0.215,0.0045],[0.058,0.0038],[0.079,0.0041],[0.514,-0.0259],[0.452,-0.0199],[0.502,-0.0202],[0.561,-0.0202],[0.568,-0.0214],[0.29,-0.0178],[0.293,-0.0156],[0.3,-0.014],[0.235,-0.0134],[0.263,-0.0133],[0.28,-0.01],[0.348,-0.0147],[0.381,-0.0156],[0.392,-0.0175],[0.416,-0.0143],[0.423,-0.0145],[0.455,-0.0145],[0.459,-0.0155],[0.474,-0.0164],[0.583,-0.0175],[0.643,-0.0176],[0.62,-0.0139],[0.62,-0.0146],[0.662,-0.0141],[0.719,-0.0154],[0.724,-0.0168],[0.171,-0.0104],[0.171,-0.0081],[0.184,-0.0071],[0.215,-0.0071],[0.22,-0.0078],[0.313,-0.0087],[0.344,-0.0094],[0.371,-0.0099],[0.405,-0.0093],[0.442,-0.0108],[0.46,-0.0111],[0.487,-0.0116],[0.52,-0.0102],[0.537,-0.0128],[0.568,-0.0104],[0.596,-0.0103],[0.606,-0.0121],[0.647,-0.0111],[0.709,-0.0111],[0.793,-0.0104],[0.806,-0.0114],[0.82,-0.0092],[0.84,-0.0093],[0.87,-0.0075],[0.904,-0.0053],[0.911,-0.0028],[0.092,-0.0031],[0.031,-0.0019]];

// ---------- layout / styling ----------
const SANS = '"Liberation Sans", Arial, sans-serif';
const SERIF = '"Liberation Serif", "Times New Roman", serif';
const SQUEEZE = 0.8; // the reference figure's text is horizontally condensed

type PanelCfg = {
  left: number; top: number; w: number; h: number;
  area: { l: number; t: number; r: number; b: number };
  xMin: number; xMax: number; yMin: number; yMax: number;
  yTicks: number[]; yMinor: number[]; dec: number;
  title: string; titleX: number; titleBaseline: number;
  diffX: number; diffY: number; avgY: number; labelRight: number; tickLabelDy: number;
  points: Pt[]; limits: number[]; valueLabels: string[]; ci: number[];
};

const LOCO_LAYOUT = {
  h: 487, area: { l: 92.3, t: 62.3, r: 564.3, b: 421.7 },
  xMin: -0.0249, xMax: 1.2266, yMin: -0.1059, yMax: 0.1061,
  yTicks: Y_TICKS_LOCO, yMinor: Y_MINOR_LOCO, dec: 1,
  title: "Locomotor", titleX: 306.5, titleBaseline: 42.7,
  diffX: 43, diffY: 237, avgY: 461, labelRight: 553.3, tickLabelDy: 16.6,
};
const MANIP_LAYOUT = {
  h: 475, area: { l: 97.3, t: 53.7, r: 564.5, b: 413 },
  xMin: -0.0288, xMax: 1.2278, yMin: -0.0318, yMax: 0.0319,
  yTicks: Y_TICKS_MANIP, yMinor: Y_MINOR_MANIP, dec: 2,
  title: "Manipulative", titleX: 305, titleBaseline: 32,
  diffX: 42, diffY: 229, avgY: 450, labelRight: 554, tickLabelDy: 17.3,
};

const PANELS: PanelCfg[] = [
  { ...LOCO_LAYOUT, left: 0, top: 0, w: 590, points: [...LOCO_A_ZERO, ...LOCO_A_ZERO2, ...LOCO_A_CORE, ...LOCO_A_MID, ...LOCO_A_EXTRA, ...LOCO_A_OUTER], limits: LOCO_A_LIMITS, valueLabels: LOCO_A_VALUE_LABELS, ci: LOCO_A_CI },
  { ...LOCO_LAYOUT, left: 589, top: 0, w: 589, points: [...LOCO_B_CORE, ...LOCO_B_ZERO2, ...LOCO_B_MID, ...LOCO_B_EXTRA, ...LOCO_B_OUTER], limits: LOCO_B_LIMITS, valueLabels: LOCO_B_VALUE_LABELS, ci: LOCO_B_CI },
  { ...MANIP_LAYOUT, left: 0, top: 508, w: 590, points: [...MANIP_A_CORE, ...MANIP_A_ZERO2, ...MANIP_A_MID, ...MANIP_A_EXTRA, ...MANIP_A_OUTER], limits: MANIP_A_LIMITS, valueLabels: MANIP_A_VALUE_LABELS, ci: MANIP_A_CI },
  { ...MANIP_LAYOUT, left: 589, top: 508, w: 589, points: [...MANIP_B_CORE, ...MANIP_B_ZERO2, ...MANIP_B_MID, ...MANIP_B_EXTRA, ...MANIP_B_OUTER], limits: MANIP_B_LIMITS, valueLabels: MANIP_B_VALUE_LABELS, ci: MANIP_B_CI },
];

function seg(y: number, xEnd: number) {
  return [{ x: 0, y }, { x: xEnd, y }];
}

function buildDatasets(cfg: PanelCfg) {
  const [m, u, l] = cfg.limits;
  const [cm, cl] = cfg.ci;
  const base = { showLine: true, pointRadius: 0, fill: false, tension: 0 };
  const band = { ...base, borderColor: "#6f6f6f", borderWidth: 1 };
  const dashed = { ...base, borderColor: "#000", borderWidth: 1.6, borderDash: [3, 2] };
  return [
    {
      data: cfg.points.map(([x, y]) => ({ x, y })),
      showLine: false,
      pointRadius: 3.7,
      pointBorderWidth: 1.1,
      pointBorderColor: "#000",
      pointBackgroundColor: "rgba(255,255,255,0)",
    },
    { ...base, data: seg(m, LINE_END), borderColor: "#000", borderWidth: 2 },
    { ...dashed, data: seg(u, LINE_END) },
    { ...dashed, data: seg(l, LINE_END) },
    { ...base, data: seg(m + cm, CI_END), borderColor: "#8c8c8c", borderWidth: 1, borderDash: [3, 2] },
    { ...base, data: seg(m - cm, CI_END), borderColor: "#8c8c8c", borderWidth: 1, borderDash: [3, 2] },
    { ...band, data: seg(u + cl, CI_END), fill: "+1", backgroundColor: "#c2c2c2" },
    { ...band, data: seg(u - cl, CI_END) },
    { ...band, data: seg(l + cl, CI_END), fill: "+1", backgroundColor: "#c2c2c2" },
    { ...band, data: seg(l - cl, CI_END) },
  ];
}

// condensed text, as in the reference figure
function squeezedText(ctx: CanvasRenderingContext2D, text: string, x: number, y: number, size: number, align: CanvasTextAlign, rotate = false) {
  ctx.save();
  ctx.translate(x, y);
  if (rotate) {
    ctx.rotate(-Math.PI / 2);
    ctx.scale(1, SQUEEZE);
  } else {
    ctx.scale(SQUEEZE, 1);
  }
  ctx.font = `${size}px ${SANS}`;
  ctx.textAlign = align;
  ctx.textBaseline = "middle";
  ctx.fillStyle = "#000";
  ctx.fillText(text, 0, 0);
  ctx.restore();
}

function makeOverlay(cfg: PanelCfg) {
  return {
    id: "baOverlay",
    afterDraw(chart: any) {
      const { ctx, chartArea: a } = chart;
      const xs = chart.scales.x;
      const ys = chart.scales.y;
      ctx.save();
      ctx.strokeStyle = "#000";
      ctx.lineWidth = 2;
      ctx.beginPath();
      ctx.moveTo(a.left, a.top);
      ctx.lineTo(a.left, a.bottom + 1);
      ctx.moveTo(a.left - 1, a.bottom);
      ctx.lineTo(a.right, a.bottom);
      ctx.stroke();
      ctx.lineWidth = 1.4;
      ctx.beginPath();
      cfg.yTicks.forEach((v) => {
        const p = ys.getPixelForValue(v);
        ctx.moveTo(a.left, p);
        ctx.lineTo(a.left + 9, p);
      });
      cfg.yMinor.forEach((v) => {
        const p = ys.getPixelForValue(v);
        ctx.moveTo(a.left, p);
        ctx.lineTo(a.left + 5, p);
      });
      X_TICKS.forEach((v) => {
        const p = xs.getPixelForValue(v);
        ctx.moveTo(p, a.bottom);
        ctx.lineTo(p, a.bottom - 9);
      });
      X_MINOR_TICKS.forEach((v) => {
        const p = xs.getPixelForValue(v);
        ctx.moveTo(p, a.bottom);
        ctx.lineTo(p, a.bottom - 5);
      });
      ctx.stroke();

      // tick labels, positioned by the chart's own scales
      xs.ticks.forEach((t: any) => {
        squeezedText(ctx, Number(t.value).toFixed(1), xs.getPixelForValue(t.value), a.bottom + cfg.tickLabelDy, 15, "center");
      });
      ys.ticks.forEach((t: any) => {
        squeezedText(ctx, Number(t.value).toFixed(cfg.dec), a.left - 4, ys.getPixelForValue(t.value), 15, "right");
      });

      ctx.fillStyle = "#000";
      ctx.font = `28px ${SERIF}`;
      ctx.textAlign = "center";
      ctx.textBaseline = "alphabetic";
      ctx.fillText(cfg.title, cfg.titleX, cfg.titleBaseline);

      squeezedText(ctx, "Average", (a.left + a.right) / 2, cfg.avgY, 15.5, "center");
      squeezedText(ctx, "Difference", cfg.diffX, cfg.diffY, 15.5, "center", true);

      const [m, u, l] = cfg.limits;
      const pm = ys.getPixelForValue(m);
      const pu = ys.getPixelForValue(u);
      const pl = ys.getPixelForValue(l);
      const rx = cfg.labelRight;
      squeezedText(ctx, "+1.96 SD", rx, pu - 10.5, 16, "right");
      squeezedText(ctx, cfg.valueLabels[1], rx, pu + 16, 16, "right");
      squeezedText(ctx, "Mean", rx, pm - 10.5, 16, "right");
      squeezedText(ctx, cfg.valueLabels[0], rx, pm + 15.5, 16, "right");
      squeezedText(ctx, "-1.96 SD", rx, pl - 10.5, 16, "right");
      squeezedText(ctx, cfg.valueLabels[2], rx, pl + 15.5, 16, "right");
      ctx.restore();
    },
  };
}

function Panel({ cfg }: { cfg: PanelCfg }) {
  const ref = useRef<HTMLCanvasElement>(null);
  useEffect(() => {
    const canvas = ref.current;
    if (!canvas) return;
    const chart = new Chart(canvas, {
      type: "scatter",
      data: { datasets: buildDatasets(cfg) as any },
      options: {
        responsive: false,
        animation: false,
        events: [],
        layout: { padding: { left: 0, top: cfg.area.t, right: cfg.w - cfg.area.r, bottom: 0 } },
        plugins: { legend: { display: false }, tooltip: { enabled: false }, title: { display: false } },
        scales: {
          x: {
            type: "linear",
            position: "bottom",
            min: cfg.xMin,
            max: cfg.xMax,
            afterBuildTicks: (s: any) => {
              s.ticks = X_TICKS.map((v) => ({ value: v }));
            },
            afterFit: (s: any) => {
              s.height = cfg.h - cfg.area.b;
            },
            grid: { display: false, drawTicks: false },
            border: { display: false },
            ticks: { display: false },
          },
          y: {
            type: "linear",
            position: "left",
            min: cfg.yMin,
            max: cfg.yMax,
            afterBuildTicks: (s: any) => {
              s.ticks = cfg.yTicks.map((v) => ({ value: v }));
            },
            afterFit: (s: any) => {
              s.width = cfg.area.l;
            },
            grid: { display: false, drawTicks: false },
            border: { display: false },
            ticks: { display: false },
          },
        },
      } as any,
      plugins: [makeOverlay(cfg)],
    });
    return () => chart.destroy();
  }, [cfg]);
  return (
    <canvas
      ref={ref}
      width={cfg.w}
      height={cfg.h}
      style={{ position: "absolute", left: cfg.left, top: cfg.top, width: cfg.w, height: cfg.h }}
    />
  );
}

export default function App() {
  return (
    <div
      style={{
        position: "absolute",
        left: 0,
        top: 0,
        width: 1178,
        height: 983,
        overflow: "hidden",
        background: "#fff",
      }}
    >
      <div
        style={{
          position: "absolute",
          left: 6,
          top: 8,
          width: 1190,
          height: 480,
          boxSizing: "border-box",
          border: "2px solid #000",
        }}
      />
      <div
        style={{
          position: "absolute",
          left: 6,
          top: 507,
          width: 1190,
          height: 500,
          boxSizing: "border-box",
          border: "2px solid #000",
        }}
      />
      {PANELS.map((p, i) => (
        <Panel key={i} cfg={p} />
      ))}
    </div>
  );
}
